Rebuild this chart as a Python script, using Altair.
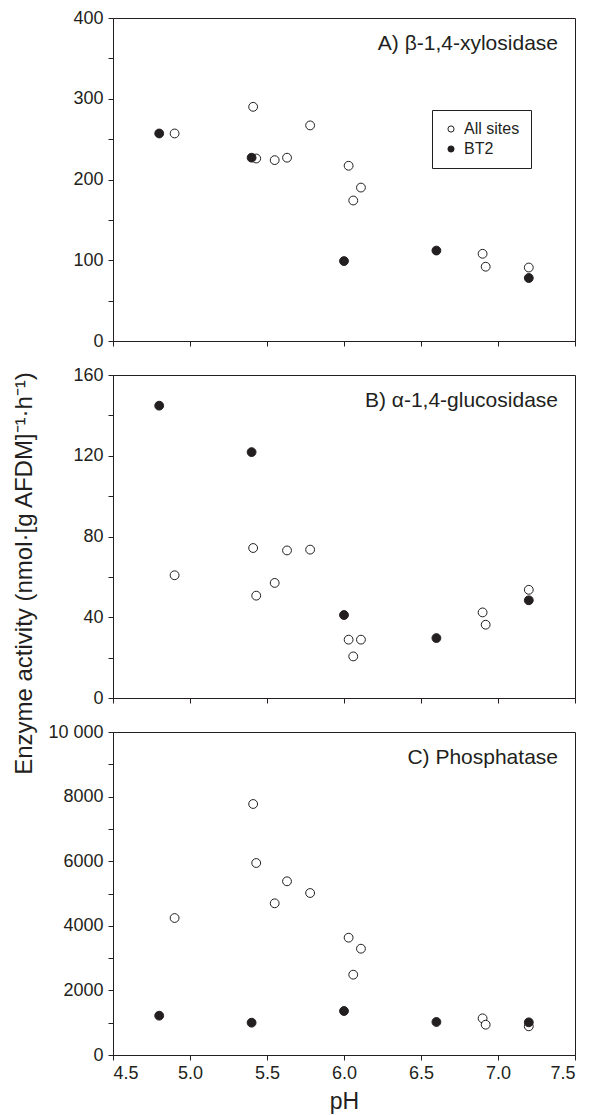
import altair as alt
import pandas as pd

# ---- data ----
groups = ["All sites", "BT2"]
ph_all = [4.90, 5.41, 5.43, 5.55, 5.63, 5.78, 6.03, 6.06, 6.11, 6.90, 6.92, 7.20]
ph_bt2 = [4.80, 5.40, 6.00, 6.60, 7.20]

xyl_all = [257, 290, 226, 224, 227, 267, 217, 174, 190, 108, 92, 91]
xyl_bt2 = [257, 227, 99, 112, 78]

glu_all = [60.8, 74.3, 50.7, 57.0, 73.1, 73.5, 28.9, 20.6, 28.9, 42.4, 36.3, 53.6]
glu_bt2 = [144.8, 121.8, 41.1, 29.7, 48.4]

pho_all = [4241, 7771, 5944, 4696, 5378, 5015, 3632, 2487, 3291, 1135, 938, 888]
pho_bt2 = [1217, 1000, 1362, 1022, 1012]

panel_labels = ["A) \u03b2-1,4-xylosidase", "B) \u03b1-1,4-glucosidase", "C) Phosphatase"]
x_ticks = [4.5, 5.0, 5.5, 6.0, 6.5, 7.0, 7.5]
yA_ticks = [0, 50, 100, 150, 200, 250, 300, 350, 400]
yB_ticks = [0, 20, 40, 60, 80, 100, 120, 140, 160]
yC_ticks = [0, 1000, 2000, 3000, 4000, 5000, 6000, 7000, 8000, 9000, 10000]
y_title = "Enzyme activity (nmol\u00b7[g AFDM]\u207b\u00b9\u00b7h\u207b\u00b9)"

INK = "#231f20"
FONT = "Liberation Sans"
W, H = 462, 323


def make_df(a, b):
    return pd.DataFrame({
        "pH": ph_all + ph_bt2,
        "value": a + b,
        "group": [groups[0]] * len(ph_all) + [groups[1]] * len(ph_bt2),
    })


def panel(vals_all, vals_bt2, label, domain, ticks, label_expr, show_x=False,
          legend=False, ytitle=False):
    df = make_df(vals_all, vals_bt2)
    xax = dict(values=x_ticks, format=".1f", labels=show_x, tickSize=5)
    xax["title"] = "pH" if show_x else None
    yax = dict(values=ticks, labelExpr=label_expr, tickSize=5)
    if ytitle:
        yax["title"] = y_title
        yax["titleX"] = -77
        yax["titleY"] = 198
        yax["titleFontSize"] = 24
    else:
        yax["title"] = None

    if legend:
        leg = alt.Legend(orient="none", legendX=319, legendY=92, title=None,
                         strokeColor=INK, fillColor="white", padding=11,
                         labelFontSize=16, labelFont=FONT, labelColor=INK,
                         symbolType="circle", symbolSize=38, symbolStrokeColor=INK,
                         symbolStrokeWidth=1, rowPadding=4, labelOffset=5,
                         cornerRadius=0)
    else:
        leg = None

    pts = alt.Chart(df).mark_point(filled=True, shape="circle", size=78,
                                   stroke=INK, strokeWidth=1, opacity=1).encode(
        x=alt.X("pH:Q", scale=alt.Scale(domain=[4.5, 7.5], nice=False, zero=False),
                axis=alt.Axis(**xax)),
        y=alt.Y("value:Q", scale=alt.Scale(domain=domain, nice=False),
                axis=alt.Axis(**yax)),
        fill=alt.Fill("group:N", scale=alt.Scale(domain=groups, range=["white", INK]),
                      legend=leg),
    )
    txt = alt.Chart(pd.DataFrame({"label": [label]})).mark_text(
        align="right", baseline="middle", fontSize=21, font=FONT, color=INK
    ).encode(text="label:N", x=alt.value(W - 17), y=alt.value(26))
    return alt.layer(pts, txt).properties(width=W, height=H)


pA = panel(xyl_all, xyl_bt2, panel_labels[0], [0, 400], yA_ticks,
           "datum.value % 100 == 0 ? format(datum.value, 'd') : ''", legend=True)
pB = panel(glu_all, glu_bt2, panel_labels[1], [0, 160], yB_ticks,
           "datum.value % 40 == 0 ? format(datum.value, 'd') : ''", ytitle=True)
pC = panel(pho_all, pho_bt2, panel_labels[2], [0, 10000], yC_ticks,
           "datum.value == 10000 ? '10 000' : (datum.value % 2000 == 0 ? format(datum.value, 'd') : '')",
           show_x=True)

chart = alt.vconcat(pA, pB, pC, spacing=34, bounds="flush").resolve_scale(
    fill="independent").resolve_legend(fill="independent").properties(
    padding={"left": 3, "top": 0, "right": 5, "bottom": 0}
).configure_view(stroke=INK, strokeWidth=1).configure_axis(
    grid=False, domainColor=INK, domainWidth=1, tickColor=INK, tickWidth=1,
    labelColor=INK, labelFont=FONT, labelFontSize=18, labelPadding=4,
    titleColor=INK, titleFont=FONT, titleFontSize=23, titleFontWeight="normal",
    titlePadding=8
).configure_axisY(labelPadding=5)

chart.save("out.html", embed_options={"renderer": "svg", "actions": False})
